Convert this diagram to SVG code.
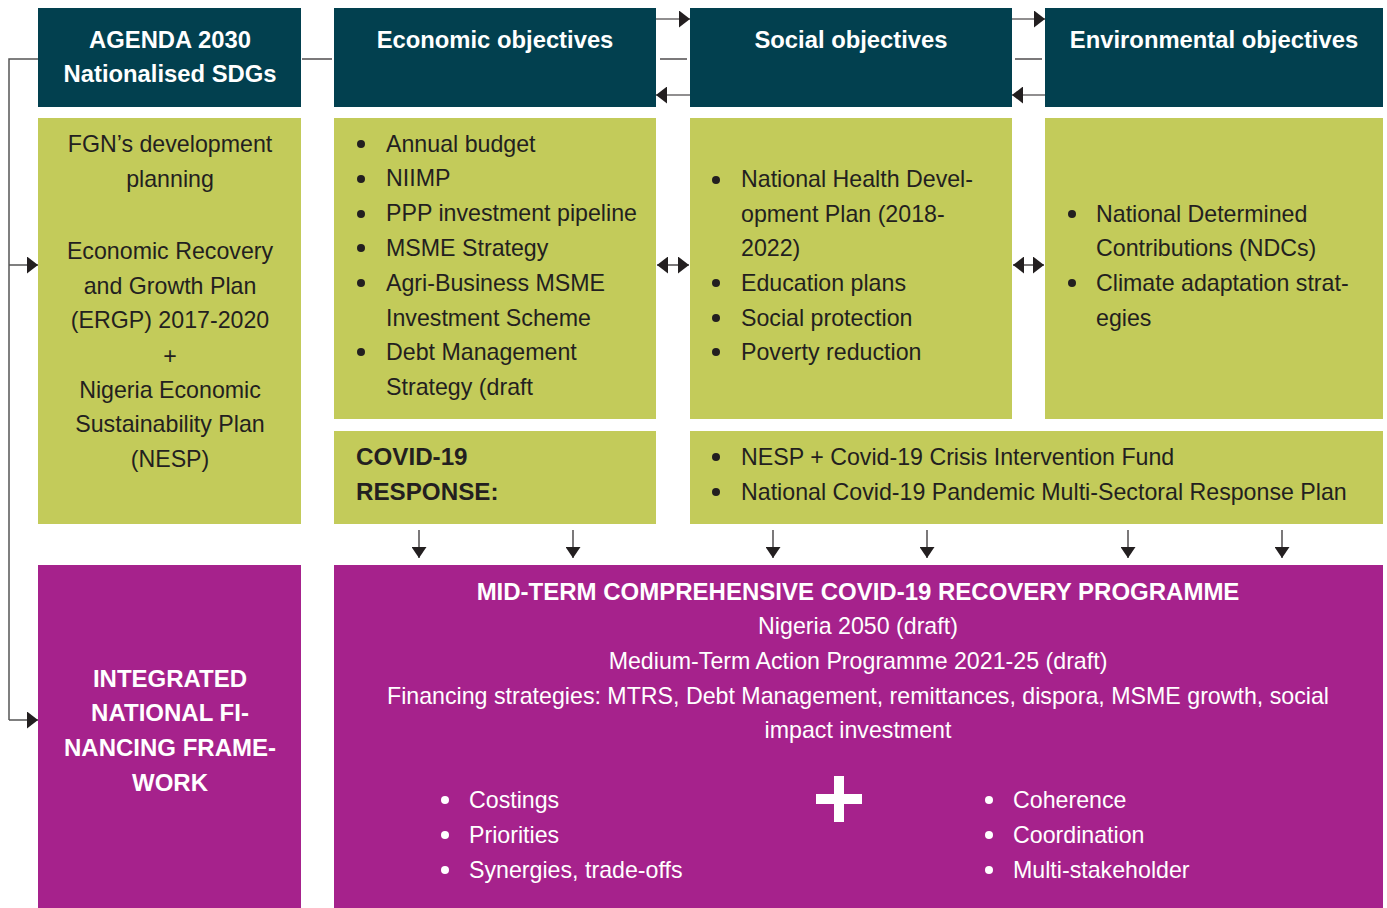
<svg xmlns="http://www.w3.org/2000/svg" width="1387" height="908" viewBox="0 0 1387 908">
<defs>
<marker id="ah" viewBox="0 0 11 17" refX="11" refY="8.5" markerWidth="11" markerHeight="17" markerUnits="userSpaceOnUse" orient="auto-start-reverse">
<path d="M0,0 L11,8.5 L0,17 Z" fill="#231F20"/>
</marker>
<marker id="ahd" viewBox="0 0 11 15" refX="11" refY="7.5" markerWidth="11" markerHeight="15" markerUnits="userSpaceOnUse" orient="auto">
<path d="M0,0 L11,7.5 L0,15 Z" fill="#231F20"/>
</marker>
<style>
.hd{fill:#02404F}
.gr{fill:#C3CB5A}
.pu{fill:#A6228C}
.ht{font-family:"Liberation Sans",Arial,sans-serif;font-weight:bold;font-size:23.8px;fill:#fff;text-anchor:middle}
.bt{font-family:"Liberation Sans",Arial,sans-serif;font-size:23.2px;fill:#231F20}
.c{text-anchor:middle}
.bb{font-family:"Liberation Sans",Arial,sans-serif;font-weight:bold;font-size:24.2px;fill:#231F20}
.wt{font-family:"Liberation Sans",Arial,sans-serif;font-size:23.2px;fill:#fff}
.wb{font-family:"Liberation Sans",Arial,sans-serif;font-weight:bold;font-size:24px;fill:#fff;text-anchor:middle}
.dk{fill:#231F20}
.wh{fill:#fff}
.ln{stroke:#231F20;stroke-width:1.2;fill:none}
.lg{stroke:#555;stroke-width:1.5;fill:none}
</style>
</defs>
<rect width="1387" height="908" fill="#fff"/>

<g id="col1">
<rect class="hd" x="38" y="8" width="263" height="99"/>
<text class="ht" x="170" y="48">AGENDA 2030</text>
<text class="ht" x="170" y="82">Nationalised SDGs</text>
<rect class="gr" x="38" y="118" width="263" height="406"/>
<text class="bt c" x="170" y="152">FGN’s development</text>
<text class="bt c" x="170" y="187">planning</text>
<text class="bt c" x="170" y="259">Economic Recovery</text>
<text class="bt c" x="170" y="294">and Growth Plan</text>
<text class="bt c" x="170" y="328">(ERGP) 2017-2020</text>
<text class="bt c" x="170" y="364">+</text>
<text class="bt c" x="170" y="398">Nigeria Economic</text>
<text class="bt c" x="170" y="432">Sustainability Plan</text>
<text class="bt c" x="170" y="467">(NESP)</text>
</g>

<g id="col2">
<rect class="hd" x="334" y="8" width="322" height="99"/>
<text class="ht" x="495" y="48">Economic objectives</text>
<rect class="gr" x="334" y="118" width="322" height="301"/>
<g class="dk">
<circle cx="361" cy="144" r="4"/><circle cx="361" cy="179" r="4"/><circle cx="361" cy="214" r="4"/><circle cx="361" cy="248" r="4"/><circle cx="361" cy="283" r="4"/><circle cx="361" cy="352" r="4"/>
</g>
<g class="bt">
<text x="386" y="152">Annual budget</text>
<text x="386" y="186">NIIMP</text>
<text x="386" y="221">PPP investment pipeline</text>
<text x="386" y="256">MSME Strategy</text>
<text x="386" y="291">Agri-Business MSME</text>
<text x="386" y="326">Investment Scheme</text>
<text x="386" y="360">Debt Management</text>
<text x="386" y="395">Strategy (draft</text>
</g>
</g>

<g id="covid">
<rect class="gr" x="334" y="431" width="322" height="93"/>
<text class="bb" x="356" y="465">COVID-19</text>
<text class="bb" x="356" y="500">RESPONSE:</text>
</g>

<g id="col3">
<rect class="hd" x="690" y="8" width="322" height="99"/>
<text class="ht" x="851" y="48">Social objectives</text>
<rect class="gr" x="690" y="118" width="322" height="301"/>
<g class="dk">
<circle cx="716" cy="180" r="4"/><circle cx="716" cy="283" r="4"/><circle cx="716" cy="318" r="4"/><circle cx="716" cy="352" r="4"/>
</g>
<g class="bt">
<text x="741" y="187">National Health Devel-</text>
<text x="741" y="222">opment Plan (2018-</text>
<text x="741" y="256">2022)</text>
<text x="741" y="291">Education plans</text>
<text x="741" y="326">Social protection</text>
<text x="741" y="360">Poverty reduction</text>
</g>
</g>

<g id="col4">
<rect class="hd" x="1045" y="8" width="338" height="99"/>
<text class="ht" x="1214" y="48">Environmental objectives</text>
<rect class="gr" x="1045" y="118" width="338" height="301"/>
<g class="dk">
<circle cx="1072" cy="214" r="4"/><circle cx="1072" cy="283" r="4"/>
</g>
<g class="bt">
<text x="1096" y="222">National Determined</text>
<text x="1096" y="256">Contributions (NDCs)</text>
<text x="1096" y="291">Climate adaptation strat-</text>
<text x="1096" y="326">egies</text>
</g>
</g>

<g id="covidplans">
<rect class="gr" x="690" y="431" width="693" height="93"/>
<g class="dk">
<circle cx="716" cy="457" r="4"/><circle cx="716" cy="492" r="4"/>
</g>
<g class="bt">
<text x="741" y="465">NESP + Covid-19 Crisis Intervention Fund</text>
<text x="741" y="500">National Covid-19 Pandemic Multi-Sectoral Response Plan</text>
</g>
</g>

<g id="inff">
<rect class="pu" x="38" y="565" width="263" height="343"/>
<text class="wb" x="170" y="687">INTEGRATED</text>
<text class="wb" x="170" y="721">NATIONAL FI-</text>
<text class="wb" x="170" y="756">NANCING FRAME-</text>
<text class="wb" x="170" y="791">WORK</text>
</g>

<g id="programme">
<rect class="pu" x="334" y="565" width="1049" height="343"/>
<text class="wb" x="858" y="600">MID-TERM COMPREHENSIVE COVID-19 RECOVERY PROGRAMME</text>
<g class="wt" text-anchor="middle">
<text x="858" y="634">Nigeria 2050 (draft)</text>
<text x="858" y="669">Medium-Term Action Programme 2021-25 (draft)</text>
<text x="858" y="704">Financing strategies: MTRS, Debt Management, remittances, dispora, MSME growth, social</text>
<text x="858" y="738">impact investment</text>
</g>
<g class="wh">
<circle cx="445" cy="800" r="4"/><circle cx="445" cy="835" r="4"/><circle cx="445" cy="870" r="4"/>
<circle cx="989" cy="800" r="4"/><circle cx="989" cy="835" r="4"/><circle cx="989" cy="870" r="4"/>
</g>
<g class="wt">
<text x="469" y="808">Costings</text>
<text x="469" y="843">Priorities</text>
<text x="469" y="878">Synergies, trade-offs</text>
<text x="1013" y="808">Coherence</text>
<text x="1013" y="843">Coordination</text>
<text x="1013" y="878">Multi-stakeholder</text>
</g>
<path d="M834,776 H844 V794 H862 V804 H844 V822 H834 V804 H816 V794 H834 Z" fill="#fff"/>
</g>

<g id="connectors">
<path class="lg" d="M38,59 H9 V720"/>
<path class="lg" d="M9,265 H38" marker-end="url(#ah)"/>
<path class="lg" d="M9,720 H38" marker-end="url(#ah)"/>
<path class="ln" d="M302,59 H332"/>
<path class="ln" d="M656,19 H690" marker-end="url(#ah)"/>
<path class="ln" d="M660,59 H687"/>
<path class="ln" d="M690,95 H656" marker-end="url(#ah)"/>
<path class="ln" d="M1012,19 H1045" marker-end="url(#ah)"/>
<path class="ln" d="M1015,59 H1042"/>
<path class="ln" d="M1045,95 H1012" marker-end="url(#ah)"/>
<path class="ln" d="M657,265 H689" marker-start="url(#ah)" marker-end="url(#ah)"/>
<path class="ln" d="M1013,265 H1044" marker-start="url(#ah)" marker-end="url(#ah)"/>
<path class="ln" d="M419,530 V558" marker-end="url(#ahd)"/>
<path class="ln" d="M573,530 V558" marker-end="url(#ahd)"/>
<path class="ln" d="M773,530 V558" marker-end="url(#ahd)"/>
<path class="ln" d="M927,530 V558" marker-end="url(#ahd)"/>
<path class="ln" d="M1128,530 V558" marker-end="url(#ahd)"/>
<path class="ln" d="M1282,530 V558" marker-end="url(#ahd)"/>
</g>
</svg>
